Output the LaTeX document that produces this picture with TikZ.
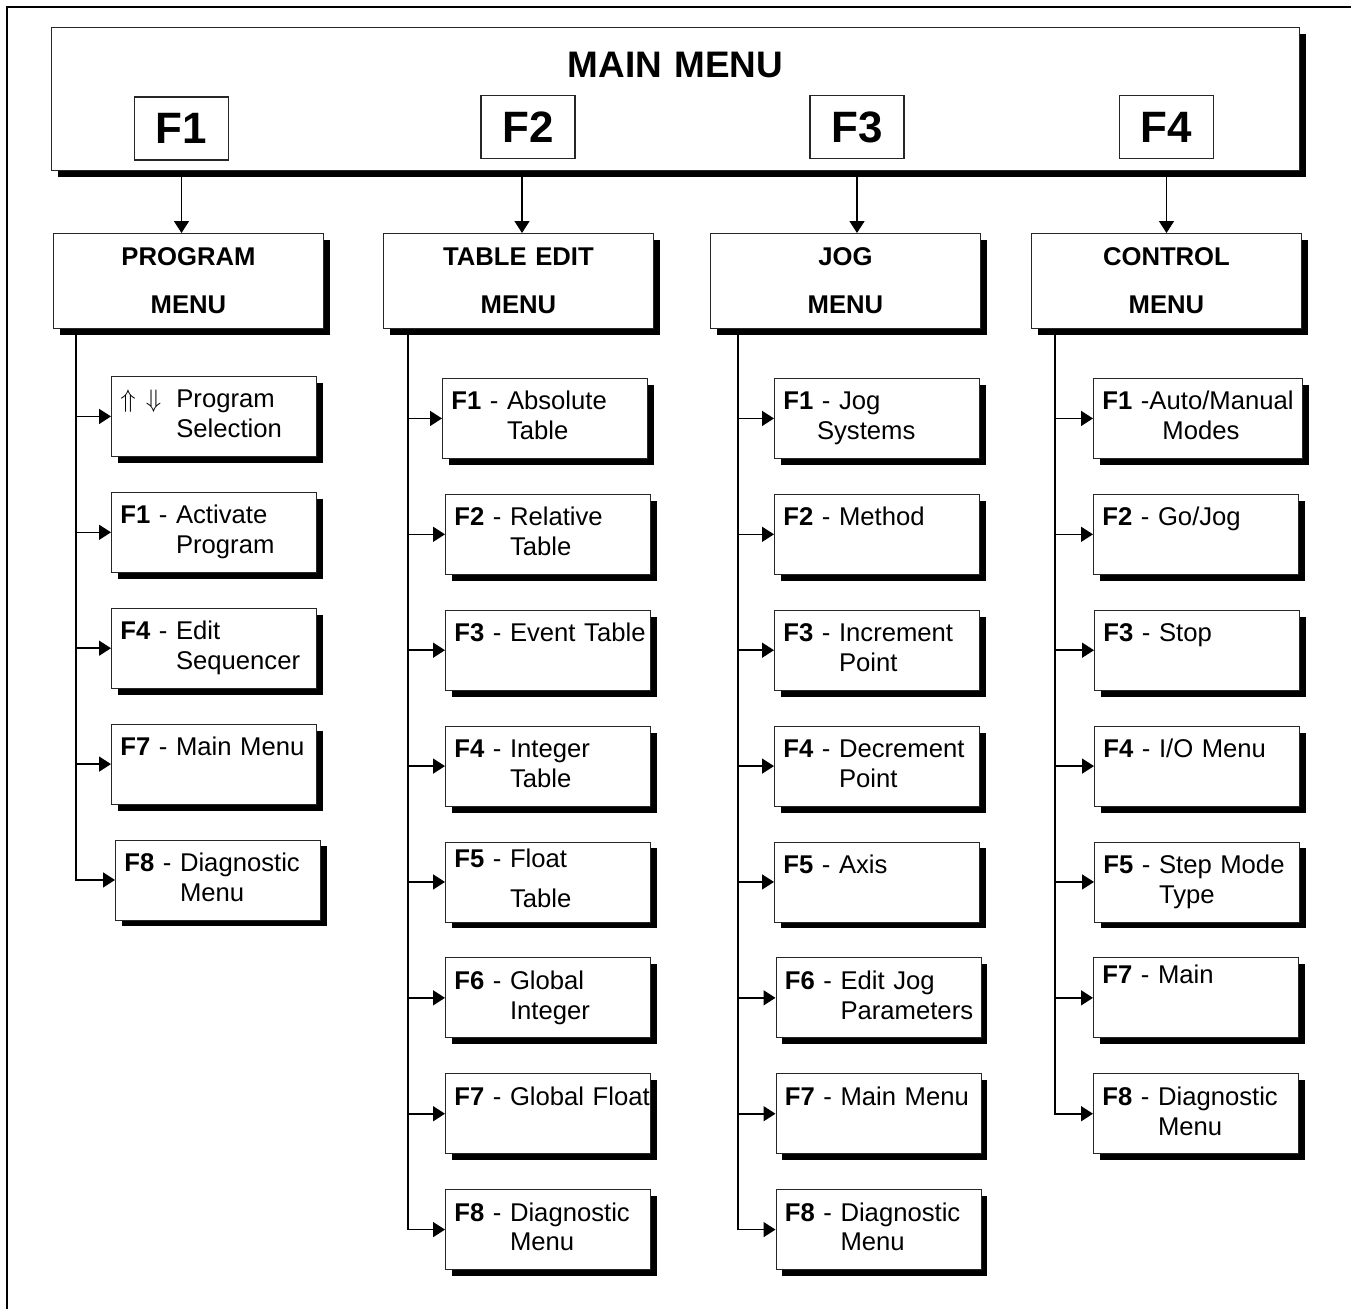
\documentclass[tikz,border=0pt]{standalone}
\usepackage{fontspec}
\setmainfont{Liberation Sans}
\usepackage{tikz}
\usetikzlibrary{arrows.meta,positioning,shadows}
\newcommand{\fkey}[2]{\mbox{\textbf{#1} - \begin{tabular}[t]{@{}l@{}}#2\end{tabular}}}

\begin{document}
\begin{tikzpicture}[
  node distance=0.7cm,
  boxshadow/.style={drop shadow={shadow xshift=0.13cm,shadow yshift=-0.13cm,fill=black,opacity=1}},
  mainbox/.style={draw=black!85,fill=white,line width=0.5pt,inner sep=0pt,text width=24.96cm,align=center,text height=1.0cm,text depth=1.86cm,font=\fontsize{21}{25}\selectfont\bfseries,boxshadow},
  keybox/.style={draw=black!85,fill=white,line width=0.6pt,minimum width=1.88cm,minimum height=1.26cm,inner sep=0pt,font=\fontsize{25}{30}\selectfont\bfseries},
  menubox/.style={draw=black!85,fill=white,line width=0.5pt,inner sep=0pt,text width=5.4cm,align=center,text height=0.64cm,text depth=1.26cm,font=\fontsize{14.6}{27.3}\selectfont\bfseries,boxshadow},
  subbox/.style={draw=black!85,fill=white,line width=0.5pt,inner xsep=0.18cm,inner ysep=0pt,text width=3.74cm,align=left,text height=0.63cm,text depth=0.97cm,font=\fontsize{14.6}{17}\selectfont,boxshadow},
  arrow/.style={-{Triangle[length=2.4mm,width=3mm]},line width=0.9pt}
]
\useasboundingbox (0,0) rectangle (27.02,-26.18);
\draw[line width=1.15pt] (0.14,-26.18) -- (0.14,-0.14) -- (27.02,-0.14);

% main menu and its keys
\node[mainbox,anchor=north west] (main) at (1.02,-0.54) {MAIN MENU};
\node[keybox] (k1) at (3.63,-2.57) {F1};
\node[keybox] (k2) at (10.56,-2.54) {F2};
\node[keybox] (k3) at (17.14,-2.54) {F3};
\node[keybox] (k4) at (23.33,-2.54) {F4};

% second level
\node[menubox,anchor=north west] (prog) at (1.06,-4.66) {PROGRAM\\MENU};
\node[menubox,anchor=north west] (tedit) at (7.66,-4.66) {TABLE EDIT\\MENU};
\node[menubox,anchor=north west] (jog) at (14.2,-4.66) {JOG\\MENU};
\node[menubox,anchor=north west] (ctrl) at (20.62,-4.66) {CONTROL\\MENU};
\draw[arrow] (k1 |- main.south) -- (k1 |- prog.north);
\draw[arrow] ([xshift=-0.12cm]k2 |- main.south) -- ([xshift=-0.12cm]k2 |- tedit.north);
\draw[arrow] (k3 |- main.south) -- (k3 |- jog.north);
\draw[arrow] (k4 |- main.south) -- (k4 |- ctrl.north);

% program menu
\node[subbox,anchor=north west] (p0) at (2.22,-7.52) {\mbox{$\Uparrow$\hspace{0.2cm}$\Downarrow$\hspace{0.3cm}\begin{tabular}[t]{@{}l@{}}Program\\Selection\end{tabular}}};
\node[subbox,below=of p0] (p1) {\fkey{F1}{Activate\\Program}};
\node[subbox,below=of p1] (p4) {\fkey{F4}{Edit\\Sequencer}};
\node[subbox,below=of p4] (p7) {\fkey{F7}{Main Menu}};
\node[subbox,below=of p7,xshift=0.08cm] (p8) {\fkey{F8}{Diagnostic\\Menu}};
\coordinate (ptr) at ([xshift=0.46cm]prog.south west);
\draw[arrow] (ptr) |- (p8.west);
\draw[arrow] (ptr |- p0.west) -- (p0.west);
\draw[arrow] (ptr |- p1.west) -- (p1.west);
\draw[arrow] (ptr |- p4.west) -- (p4.west);
\draw[arrow] (ptr |- p7.west) -- (p7.west);

% table edit menu
\node[subbox,anchor=north west] (t1) at (8.84,-7.56) {\fkey{F1}{Absolute\\Table}};
\node[subbox,below=of t1,xshift=0.06cm] (t2) {\fkey{F2}{Relative\\Table}};
\node[subbox,below=of t2] (t3) {\fkey{F3}{Event Table}};
\node[subbox,below=of t3] (t4) {\fkey{F4}{Integer\\Table}};
\node[subbox,below=of t4,text height=0.52cm,text depth=1.08cm] (t5) {\fkey{F5}{Float\\[0.2cm]Table}};
\node[subbox,below=of t5] (t6) {\fkey{F6}{Global\\Integer}};
\node[subbox,below=of t6] (t7) {\fkey{F7}{Global Float}};
\node[subbox,below=of t7] (t8) {\fkey{F8}{Diagnostic\\Menu}};
\coordinate (ttr) at ([xshift=0.5cm]tedit.south west);
\draw[arrow] (ttr) |- (t8.west);
\draw[arrow] (ttr |- t1.west) -- (t1.west);
\draw[arrow] (ttr |- t2.west) -- (t2.west);
\draw[arrow] (ttr |- t3.west) -- (t3.west);
\draw[arrow] (ttr |- t4.west) -- (t4.west);
\draw[arrow] (ttr |- t5.west) -- (t5.west);
\draw[arrow] (ttr |- t6.west) -- (t6.west);
\draw[arrow] (ttr |- t7.west) -- (t7.west);

% jog menu
\node[subbox,anchor=north west] (j1) at (15.48,-7.56) {\mbox{\textbf{F1} - \begin{tabular}[t]{@{}l@{}}Jog\\\hspace*{-0.44cm}Systems\end{tabular}}};
\node[subbox,below=of j1] (j2) {\fkey{F2}{Method}};
\node[subbox,below=of j2] (j3) {\fkey{F3}{Increment\\Point}};
\node[subbox,below=of j3] (j4) {\fkey{F4}{Decrement\\Point}};
\node[subbox,below=of j4] (j5) {\fkey{F5}{Axis}};
\node[subbox,below=of j5,xshift=0.03cm] (j6) {\fkey{F6}{Edit Jog\\Parameters}};
\node[subbox,below=of j6] (j7) {\fkey{F7}{Main Menu}};
\node[subbox,below=of j7] (j8) {\fkey{F8}{Diagnostic\\Menu}};
\coordinate (jtr) at ([xshift=0.56cm]jog.south west);
\draw[arrow] (jtr) |- (j8.west);
\draw[arrow] (jtr |- j1.west) -- (j1.west);
\draw[arrow] (jtr |- j2.west) -- (j2.west);
\draw[arrow] (jtr |- j3.west) -- (j3.west);
\draw[arrow] (jtr |- j4.west) -- (j4.west);
\draw[arrow] (jtr |- j5.west) -- (j5.west);
\draw[arrow] (jtr |- j6.west) -- (j6.west);
\draw[arrow] (jtr |- j7.west) -- (j7.west);

% control menu
\node[subbox,anchor=north west,text width=3.82cm] (c1) at (21.86,-7.56) {\mbox{\textbf{F1} -\begin{tabular}[t]{@{}l@{}}Auto/Manual\\\hspace*{0.26cm}Modes\end{tabular}}};
\node[subbox,below=of c1,xshift=-0.04cm] (c2) {\fkey{F2}{Go/Jog}};
\node[subbox,below=of c2,xshift=0.02cm] (c3) {\fkey{F3}{Stop}};
\node[subbox,below=of c3] (c4) {\fkey{F4}{I/O Menu}};
\node[subbox,below=of c4] (c5) {\fkey{F5}{Step Mode\\Type}};
\node[subbox,below=of c5,xshift=-0.02cm,text height=0.52cm,text depth=1.08cm] (c7) {\fkey{F7}{Main}};
\node[subbox,below=of c7] (c8) {\fkey{F8}{Diagnostic\\Menu}};
\coordinate (ctr) at ([xshift=0.48cm]ctrl.south west);
\draw[arrow] (ctr) |- (c8.west);
\draw[arrow] (ctr |- c1.west) -- (c1.west);
\draw[arrow] (ctr |- c2.west) -- (c2.west);
\draw[arrow] (ctr |- c3.west) -- (c3.west);
\draw[arrow] (ctr |- c4.west) -- (c4.west);
\draw[arrow] (ctr |- c5.west) -- (c5.west);
\draw[arrow] (ctr |- c7.west) -- (c7.west);
\end{tikzpicture}
\end{document}
